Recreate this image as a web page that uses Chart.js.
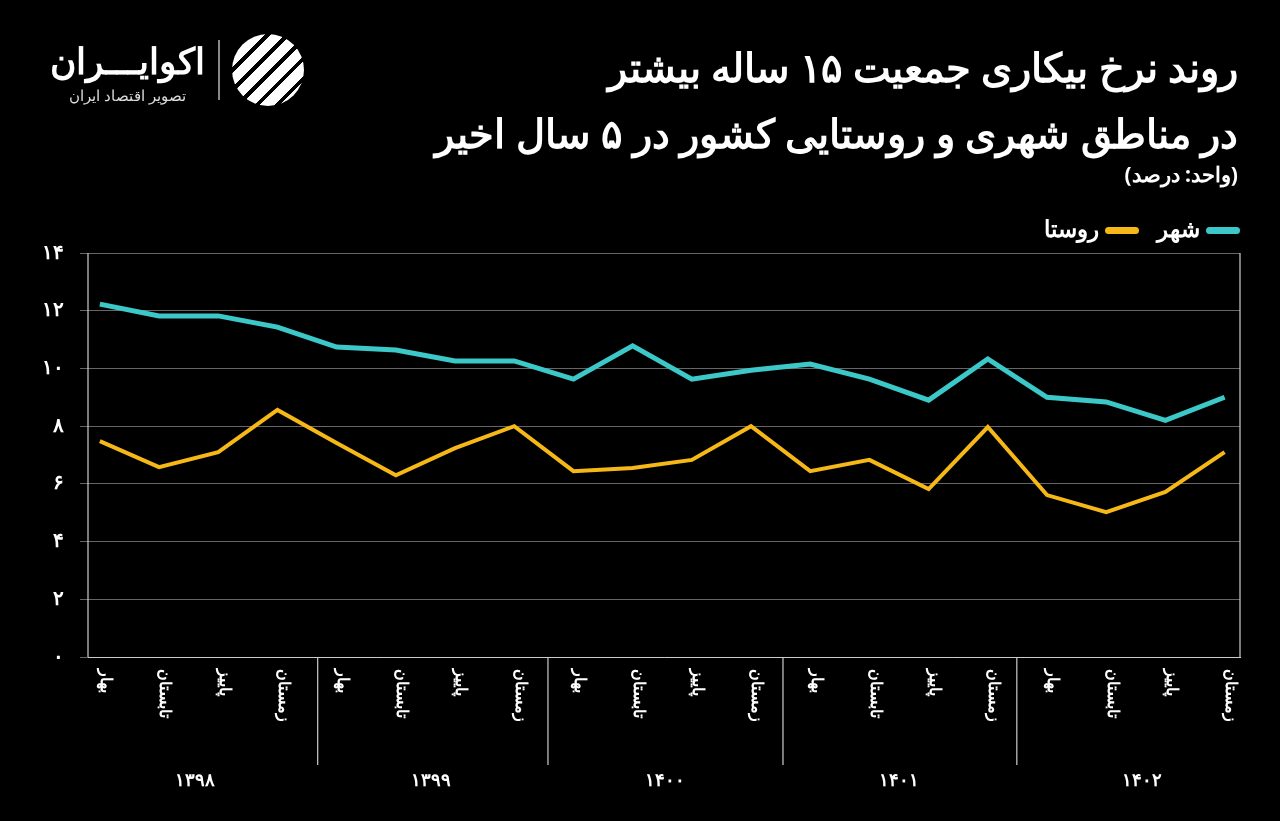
<!DOCTYPE html>
<html><head><meta charset="utf-8">
<script src="https://cdn.jsdelivr.net/npm/chart.js@4"></script>
<style>
body{margin:0;width:1280px;height:821px;background:#000;overflow:hidden;font-family:"Noto Sans",sans-serif;color:#fff;position:relative}
#title{position:absolute;right:42px;top:34px;text-align:right;direction:rtl;font-weight:bold;font-size:40px;line-height:66px;white-space:nowrap}
#unit{position:absolute;right:42px;top:160px;direction:rtl;font-size:21px;font-weight:bold}
#legend{position:absolute;right:40px;top:212px;direction:rtl;font-size:23px;font-weight:bold;display:flex;gap:18px;align-items:center}
#legend span.l{display:inline-block;width:34px;height:7px;border-radius:4px;margin-left:6px;vertical-align:middle}
#logo{position:absolute;left:50px;top:36px;direction:rtl;text-align:center}
#logo .a{font-size:36px;font-weight:bold}
#logo .b{font-size:15px;color:#ddd}
#sep{position:absolute;left:218px;top:40px;width:2px;height:60px;background:#888}
#mark{position:absolute;left:232px;top:34px;width:72px;height:72px;border-radius:50%;background:repeating-linear-gradient(135deg,#fff 0 10px,#000 10px 14px)}
#wrap{position:absolute;left:0;top:0;width:1280px;height:821px}
</style></head><body>
<div id="wrap"><canvas id="c" width="1280" height="821"></canvas></div>
<div id="logo"><div class="a">اکوایـــران</div><div class="b">تصویر اقتصاد ایران</div></div>
<div id="sep"></div><div id="mark"></div>
<div id="title">روند نرخ بیکاری جمعیت ۱۵ ساله بیشتر<br>در مناطق شهری و روستایی کشور در ۵ سال اخیر</div>
<div id="unit">(واحد: درصد)</div>
<div id="legend"><div><span class="l" style="background:#3cc8c8"></span>شهر</div><div><span class="l" style="background:#f5b816"></span>روستا</div></div>
<script>
const seasons=["بهار","تابستان","پاییز","زمستان"];
const years=["۱۳۹۸","۱۳۹۹","۱۴۰۰","۱۴۰۱","۱۴۰۲"];
const categories=[];years.forEach(y=>seasons.forEach(s=>categories.push(s)));
const city=[12.23,11.82,11.82,11.43,10.74,10.64,10.26,10.26,9.63,10.78,9.63,9.94,10.15,9.63,8.9,10.33,9.0,8.84,8.2,9.0];
const rural=[7.48,6.58,7.1,8.56,7.42,6.3,7.24,8.0,6.44,6.55,6.83,8.0,6.44,6.83,5.82,7.97,5.61,5.02,5.72,7.1];
const yTicks=["۰","۲","۴","۶","۸","۱۰","۱۲","۱۴"];
const sepAt=[3.68,7.57,11.54,15.49];
const yearAt=[1.6,5.6,9.54,13.5,17.6];
const pts=a=>a.map((v,i)=>({x:i,y:v}));
const labelsPlugin={id:"lbl",afterDraw(ch){
 const c=ch.ctx,x=ch.scales.x,a=ch.chartArea;
 c.save();c.fillStyle="#fff";c.font="bold 16px 'Noto Sans'";
 categories.forEach((s,i)=>{const px=x.getPixelForValue(i)+6;c.save();c.translate(px,a.bottom+12);c.rotate(Math.PI/2);c.textAlign="left";c.textBaseline="middle";c.fillText(s,0,0);c.restore();});
 c.strokeStyle="#ccc";c.lineWidth=1.2;
 sepAt.forEach(v=>{const px=x.getPixelForValue(v);c.beginPath();c.moveTo(px,a.bottom);c.lineTo(px,a.bottom+108);c.stroke();});
 c.font="bold 18px 'Noto Sans'";c.textAlign="center";c.textBaseline="middle";
 years.forEach((y,k)=>{c.fillText(y,x.getPixelForValue(yearAt[k]),a.bottom+124);});
 c.beginPath();c.moveTo(a.left,a.top);c.lineTo(a.left,a.bottom);c.moveTo(a.right,a.top);c.lineTo(a.right,a.bottom);c.stroke();
 c.restore();}};
new Chart(document.getElementById("c"),{type:"line",
 data:{datasets:[
  {data:pts(city),borderColor:"#3cc8c8",borderWidth:5,pointRadius:0,tension:0},
  {data:pts(rural),borderColor:"#f5b816",borderWidth:4,pointRadius:0,tension:0}]},
 options:{responsive:false,animation:false,
  layout:{padding:{left:0,right:40,top:253,bottom:156}},
  plugins:{legend:{display:false},tooltip:{enabled:false}},
  scales:{
   x:{type:"linear",min:-0.2,max:19.26,grid:{display:false},border:{color:"#ccc"},ticks:{display:false}},
   y:{min:0,max:14,position:"left",border:{display:false},afterFit(s){s.width=88;},
      grid:{color:"#666",lineWidth:1},
      ticks:{stepSize:2,color:"#fff",font:{size:20,weight:"bold"},padding:16,callback:(v)=>yTicks[v/2]}}}},
 plugins:[labelsPlugin]
});
</script></body></html>
